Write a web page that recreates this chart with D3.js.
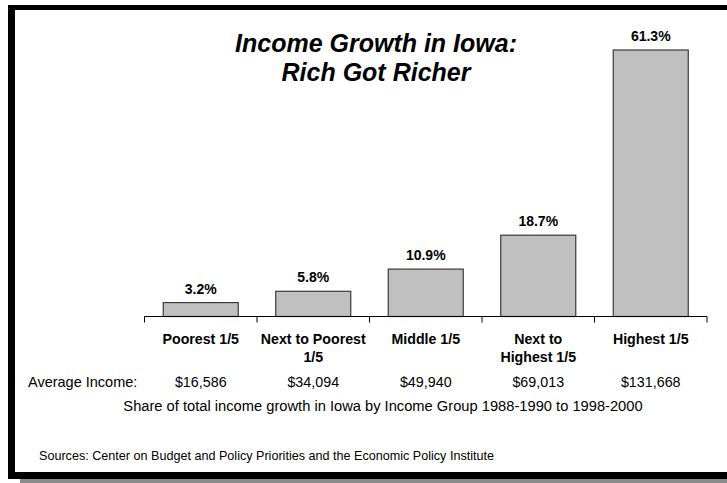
<!DOCTYPE html>
<html>
<head>
<meta charset="utf-8">
<script src="https://cdn.jsdelivr.net/npm/d3@7"></script>
<style>
  html, body { margin: 0; padding: 0; background: #fff; }
  svg { display: block; font-family: Arial, "Liberation Sans", sans-serif; }
</style>
</head>
<body>
<svg id="chart" width="727" height="483"></svg>
<script>
// Income groups (quintiles), share of income growth and average incomes
const groups = ["Poorest 1/5", "Next to Poorest 1/5", "Middle 1/5", "Next to Highest 1/5", "Highest 1/5"];
const groupLines = [["Poorest 1/5"], ["Next to Poorest", "1/5"], ["Middle 1/5"], ["Next to", "Highest 1/5"], ["Highest 1/5"]];
const shares = [3.2, 5.8, 10.9, 18.7, 61.3];
const avgIncome = ["$16,586", "$34,094", "$49,940", "$69,013", "$131,668"];

const svg = d3.select("#chart");

// Frame with drop shadow
svg.append("rect").attr("x", 20).attr("y", 479).attr("width", 707).attr("height", 4).attr("fill", "#8a8a8a");
svg.append("rect").attr("x", 8).attr("y", 5).attr("width", 7).attr("height", 474).attr("fill", "#000");
svg.append("rect").attr("x", 8).attr("y", 5).attr("width", 719).attr("height", 5).attr("fill", "#000");
svg.append("rect").attr("x", 8).attr("y", 472).attr("width", 719).attr("height", 7).attr("fill", "#000");

const axisY = 316.5;
const x = d3.scaleBand().domain(groups).range([144.5, 707]).paddingInner(1 / 3).paddingOuter(1 / 6);
const y = d3.scaleLinear().domain([0, 61.3]).range([axisY, 50]);

// Title
const title = svg.append("text")
  .attr("x", 376).attr("text-anchor", "middle")
  .attr("font-size", 25).attr("font-weight", "bold").attr("font-style", "italic");
title.append("tspan").attr("x", 376).attr("y", 52).text("Income Growth in Iowa:");
title.append("tspan").attr("x", 376).attr("y", 81).text("Rich Got Richer");

// Bars
svg.selectAll("rect.bar").data(shares).join("rect")
  .attr("class", "bar")
  .attr("x", (d, i) => x(groups[i]))
  .attr("y", d => y(d))
  .attr("width", x.bandwidth())
  .attr("height", d => axisY - y(d))
  .attr("fill", "#c0c0c0")
  .attr("stroke", "#3a3a3a")
  .attr("stroke-width", 1.2);

// Value labels
svg.selectAll("text.val").data(shares).join("text")
  .attr("class", "val")
  .attr("x", (d, i) => x(groups[i]) + x.bandwidth() / 2)
  .attr("y", d => y(d) - 9)
  .attr("text-anchor", "middle")
  .attr("font-size", 14).attr("font-weight", "bold")
  .text(d => d.toFixed(1) + "%");

// Category axis
const step = x.step();
const x0 = x.range()[0];
svg.append("line").attr("x1", x0).attr("x2", x.range()[1]).attr("y1", axisY).attr("y2", axisY)
  .attr("stroke", "#000").attr("stroke-width", 1);
svg.selectAll("line.tick").data(d3.range(groups.length + 1)).join("line")
  .attr("class", "tick")
  .attr("x1", i => x0 + i * step).attr("x2", i => x0 + i * step)
  .attr("y1", axisY).attr("y2", axisY + 6)
  .attr("stroke", "#000").attr("stroke-width", 1);

const cat = svg.selectAll("text.cat").data(groupLines).join("text")
  .attr("class", "cat")
  .attr("text-anchor", "middle")
  .attr("font-size", 14.2).attr("font-weight", "bold");
cat.each(function (lines, i) {
  const cx = x(groups[i]) + x.bandwidth() / 2;
  d3.select(this).selectAll("tspan").data(lines).join("tspan")
    .attr("x", cx).attr("y", (l, j) => 344 + j * 17.5).text(l => l);
});

// Average income row
svg.append("text").attr("x", 28).attr("y", 386.5).attr("font-size", 14.5).text("Average Income:");
svg.selectAll("text.inc").data(avgIncome).join("text")
  .attr("class", "inc")
  .attr("x", (d, i) => x(groups[i]) + x.bandwidth() / 2)
  .attr("y", 386.5)
  .attr("text-anchor", "middle")
  .attr("font-size", 14.3)
  .text(d => d);

// Subtitle and sources
svg.append("text").attr("x", 383).attr("y", 410.5).attr("text-anchor", "middle").attr("font-size", 14.7)
  .text("Share of total income growth in Iowa by Income Group 1988-1990 to 1998-2000");
svg.append("text").attr("x", 39).attr("y", 460).attr("font-size", 12.6)
  .text("Sources: Center on Budget and Policy Priorities and the Economic Policy Institute");
</script>
</body>
</html>
